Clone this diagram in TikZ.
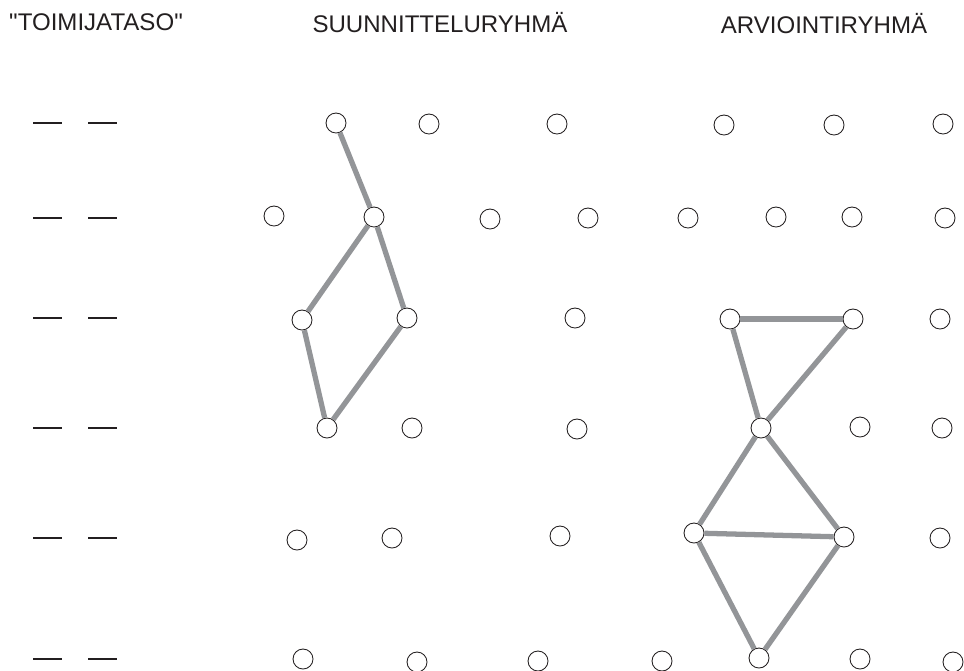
\documentclass[tikz,border=0pt]{standalone}
\usepackage{fontspec}
\setmainfont{Liberation Sans}[Ligatures=TeXOff]
\usepackage{xcolor}
\definecolor{ink}{HTML}{231F20}
\definecolor{linkgray}{HTML}{939598}
\usepackage{tikz}
\usetikzlibrary{positioning}

\begin{document}
\begin{tikzpicture}[x=0.02cm, y=-0.02cm]
  \tikzstyle{member}=[circle, draw=ink, fill=white, line width=0.5pt,
    minimum size=0.4cm, inner sep=0pt]
  \tikzstyle{link}=[line width=3pt, color=linkgray]
  \tikzstyle{level}=[line width=1.4pt, color=ink]
  \tikzstyle{heading}=[anchor=base, font=\fontsize{13.7pt}{16pt}\selectfont,
    text=ink, inner sep=0pt]
  \useasboundingbox (0,0) rectangle (964,670);

  % headings
  \node[heading] (hlevel) at (96,30) {"TOIMIJATASO"};
  \node[heading] (hplan) at (440,32) {SUUNNITTELURYHMÄ};
  \node[heading] (heval) at (824,33) {ARVIOINTIRYHMÄ};

  % level marks
  \foreach \y in {123,218,318,428,538,659}{
    \draw[level] (33,\y) -- (62,\y);
    \draw[level] (88,\y) -- (117,\y);
  }

  % suunnitteluryhma
  \node[member] (s1) at (336,123) {};
  \node[member] (s2) at (374,217) {};
  \node[member] (s3) at (302,320) {};
  \node[member] (s4) at (407,318) {};
  \node[member] (s5) at (327,428) {};
  \node[member] (p1) at (429,124) {};
  \node[member] (p2) at (557,124) {};
  \node[member] (p3) at (274,216) {};
  \node[member] (p4) at (490,219) {};
  \node[member] (p5) at (588,218) {};
  \node[member] (p6) at (575,318) {};
  \node[member] (p7) at (412,428) {};
  \node[member] (p8) at (577,429) {};
  \node[member] (p9) at (297,540) {};
  \node[member] (p10) at (392,538) {};
  \node[member] (p11) at (560,536) {};
  \node[member] (p12) at (303,659) {};
  \node[member] (p13) at (417,662) {};
  \node[member] (p14) at (538,661) {};

  % arviointiryhma
  \node[member] (a1) at (730,319) {};
  \node[member] (a2) at (853,319) {};
  \node[member] (a3) at (761,428) {};
  \node[member] (a4) at (694,533) {};
  \node[member] (a5) at (844,537) {};
  \node[member] (a6) at (759,658) {};
  \node[member] (q1) at (724,125) {};
  \node[member] (q2) at (834,125) {};
  \node[member] (q3) at (943,124) {};
  \node[member] (q4) at (688,218) {};
  \node[member] (q5) at (776,217) {};
  \node[member] (q6) at (852,217) {};
  \node[member] (q7) at (945,218) {};
  \node[member] (q8) at (940,319) {};
  \node[member] (q9) at (860,427) {};
  \node[member] (q10) at (942,428) {};
  \node[member] (q11) at (940,538) {};
  \node[member] (q12) at (662,661) {};
  \node[member] (q13) at (860,659) {};
  \node[member] (q14) at (953,662) {};

  % links
  \draw[link] (s1) -- (s2);
  \draw[link] (s2) -- (s3);
  \draw[link] (s2) -- (s4);
  \draw[link] (s3) -- (s5);
  \draw[link] (s4) -- (s5);
  \draw[link] (a1) -- (a2);
  \draw[link] (a1) -- (a3);
  \draw[link] (a2) -- (a3);
  \draw[link] (a3) -- (a4);
  \draw[link] (a3) -- (a5);
  \draw[link] (a4) -- (a5);
  \draw[link] (a4) -- (a6);
  \draw[link] (a5) -- (a6);
\end{tikzpicture}
\end{document}
